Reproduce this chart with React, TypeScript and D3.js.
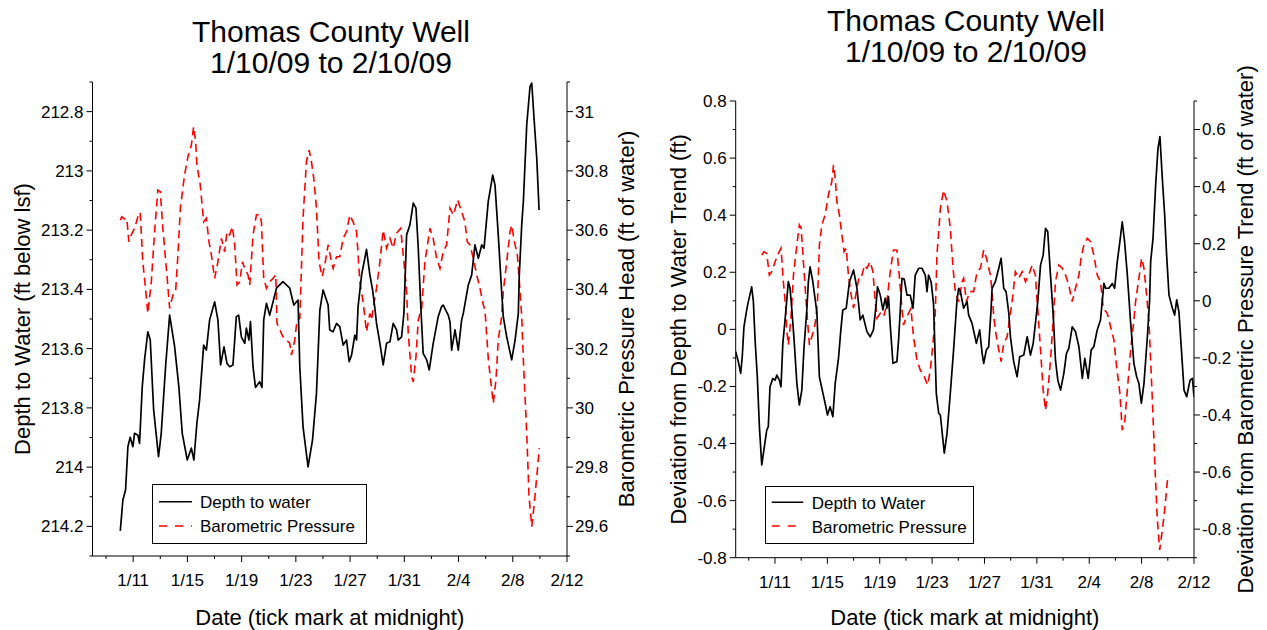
import React from "react";
import * as d3 from "d3";

const FONT = "'Liberation Sans', Arial, Helvetica, sans-serif";

// x axis: day of year 2009 (1 = Jan 1)
const xDomain: [number, number] = [8, 43];
const xMajorDays = [11, 15, 19, 23, 27, 31, 35, 39, 43];
const xTickLabels = ["1/11", "1/15", "1/19", "1/23", "1/27", "1/31", "2/4", "2/8", "2/12"];
const xMinorDays = [9, 13, 17, 21, 25, 29, 33, 37, 41];

const leftDepthTicks = ["212.8", "213", "213.2", "213.4", "213.6", "213.8", "214", "214.2"];
const leftBaroTicks = ["31", "30.8", "30.6", "30.4", "30.2", "30", "29.8", "29.6"];
const rightDepthTicks = ["0.8", "0.6", "0.4", "0.2", "0", "-0.2", "-0.4", "-0.6", "-0.8"];
const rightBaroTicks = ["0.6", "0.4", "0.2", "0", "-0.2", "-0.4", "-0.6", "-0.8"];

const titleLines = ["Thomas County Well", "1/10/09 to 2/10/09"];

// Left chart: depth to water (ft below lsf)
const leftDepth: [number, number][] = [
  [10.05, 214.215], [10.24, 214.111], [10.44, 214.077], [10.61, 213.931], [10.78, 213.899], [10.98, 213.931],
  [11.1, 213.886], [11.35, 213.892], [11.47, 213.92], [11.67, 213.729], [11.84, 213.638], [12.08, 213.543],
  [12.26, 213.571], [12.51, 213.807], [12.87, 213.965], [13.07, 213.886], [13.39, 213.661], [13.69, 213.487],
  [14.06, 213.594], [14.37, 213.729], [14.62, 213.886], [14.99, 213.976], [15.29, 213.936], [15.48, 213.976],
  [15.7, 213.852], [15.9, 213.773], [16.2, 213.588], [16.4, 213.605], [16.64, 213.503], [17.01, 213.442],
  [17.25, 213.503], [17.45, 213.655], [17.7, 213.594], [17.92, 213.65], [18.12, 213.661], [18.36, 213.655],
  [18.61, 213.492], [18.78, 213.487], [18.98, 213.56], [19.23, 213.582], [19.35, 213.531], [19.54, 213.571],
  [19.65, 213.509], [19.84, 213.661], [20.02, 213.731], [20.33, 213.712], [20.5, 213.731], [20.63, 213.503],
  [20.83, 213.447], [21.07, 213.487], [21.57, 213.396], [22.05, 213.374], [22.55, 213.396], [22.85, 213.453],
  [23.16, 213.436], [23.29, 213.661], [23.53, 213.864], [23.9, 213.999], [24.23, 213.908], [24.52, 213.751],
  [24.77, 213.47], [25.01, 213.402], [25.38, 213.453], [25.5, 213.537], [25.75, 213.543], [26.0, 213.515],
  [26.24, 213.526], [26.49, 213.588], [26.74, 213.571], [26.93, 213.644], [27.11, 213.622], [27.35, 213.554],
  [27.48, 213.571], [27.59, 213.458], [27.85, 213.351], [28.21, 213.265], [28.46, 213.351], [28.66, 213.402],
  [28.83, 213.464], [28.95, 213.515], [29.2, 213.582], [29.44, 213.655], [29.69, 213.582], [29.94, 213.577],
  [30.18, 213.515], [30.43, 213.537], [30.55, 213.571], [30.8, 213.56], [30.97, 213.481], [31.17, 213.216],
  [31.41, 213.183], [31.66, 213.109], [31.86, 213.126], [32.03, 213.261], [32.2, 213.442], [32.39, 213.616],
  [32.65, 213.638], [32.84, 213.672], [33.13, 213.582], [33.5, 213.492], [33.75, 213.458], [33.87, 213.453],
  [34.24, 213.487], [34.37, 213.509], [34.49, 213.605], [34.74, 213.537], [34.98, 213.605], [35.23, 213.503],
  [35.35, 213.481], [35.72, 213.385], [35.97, 213.351], [36.21, 213.25], [36.46, 213.295], [36.71, 213.25],
  [36.88, 213.261], [37.19, 213.104], [37.52, 213.014], [37.69, 213.048], [37.93, 213.216], [38.18, 213.408],
  [38.3, 213.492], [38.55, 213.56], [38.92, 213.638], [39.17, 213.571], [39.41, 213.481], [39.48, 213.351],
  [39.66, 213.183], [39.78, 213.104], [40.03, 212.845], [40.27, 212.716], [40.4, 212.704], [40.57, 212.823],
  [40.77, 212.958], [40.94, 213.132],
];

// Left chart: barometric pressure head (ft of water)
const leftBaro: [number, number][] = [
  [10.05, 30.634], [10.16, 30.645], [10.36, 30.638], [10.53, 30.64], [10.68, 30.561], [10.86, 30.584],
  [11.1, 30.606], [11.35, 30.645], [11.52, 30.66], [11.71, 30.493], [11.91, 30.404], [12.08, 30.319],
  [12.34, 30.426], [12.58, 30.595], [12.82, 30.735], [13.0, 30.73], [13.19, 30.606], [13.49, 30.449],
  [13.69, 30.336], [13.93, 30.381], [14.13, 30.392], [14.3, 30.516], [14.48, 30.674], [14.79, 30.786],
  [15.04, 30.848], [15.29, 30.887], [15.46, 30.949], [15.61, 30.898], [15.7, 30.82], [15.95, 30.752],
  [16.2, 30.628], [16.4, 30.64], [16.59, 30.561], [16.77, 30.516], [17.01, 30.437], [17.25, 30.493],
  [17.51, 30.572], [17.75, 30.527], [17.92, 30.595], [18.12, 30.584], [18.32, 30.612], [18.49, 30.55],
  [18.66, 30.415], [18.86, 30.426], [19.06, 30.493], [19.23, 30.471], [19.47, 30.449], [19.6, 30.415],
  [19.84, 30.584], [20.09, 30.651], [20.33, 30.653], [20.46, 30.628], [20.63, 30.437], [20.83, 30.404],
  [21.07, 30.426], [21.32, 30.437], [21.52, 30.449], [21.61, 30.285], [22.05, 30.24], [22.31, 30.229],
  [22.55, 30.218], [22.68, 30.178], [22.92, 30.229], [23.09, 30.297], [23.29, 30.302], [23.53, 30.64],
  [23.78, 30.831], [23.98, 30.87], [24.15, 30.831], [24.32, 30.775], [24.52, 30.674], [24.71, 30.493],
  [24.94, 30.443], [25.13, 30.482], [25.38, 30.55], [25.63, 30.493], [25.75, 30.471], [26.0, 30.51],
  [26.24, 30.51], [26.49, 30.572], [26.74, 30.595], [26.98, 30.651], [27.22, 30.628], [27.48, 30.595],
  [27.72, 30.426], [27.96, 30.358], [28.21, 30.257], [28.46, 30.319], [28.58, 30.297], [28.7, 30.336],
  [28.95, 30.404], [29.2, 30.493], [29.44, 30.6], [29.69, 30.539], [29.94, 30.572], [30.18, 30.539],
  [30.43, 30.589], [30.73, 30.606], [30.97, 30.493], [31.17, 30.392], [31.29, 30.252], [31.54, 30.105],
  [31.66, 30.088], [31.86, 30.173], [32.03, 30.297], [32.28, 30.336], [32.52, 30.493], [32.89, 30.606],
  [33.13, 30.572], [33.38, 30.505], [33.63, 30.471], [33.87, 30.527], [34.12, 30.55], [34.37, 30.674],
  [34.61, 30.651], [34.94, 30.702], [35.23, 30.662], [35.47, 30.628], [35.64, 30.561], [35.84, 30.55],
  [36.09, 30.505], [36.34, 30.449], [36.58, 30.404], [36.83, 30.347], [36.95, 30.33], [37.2, 30.162],
  [37.45, 30.06], [37.56, 30.015], [37.76, 30.094], [37.93, 30.229], [38.18, 30.308], [38.3, 30.392],
  [38.55, 30.493], [38.8, 30.595], [38.92, 30.617], [39.12, 30.561], [39.34, 30.516], [39.54, 30.392],
  [39.66, 30.308], [39.78, 30.162], [40.03, 29.914], [40.2, 29.7], [40.4, 29.599], [40.59, 29.678],
  [40.77, 29.768], [40.96, 29.864],
];

// Right chart: deviation from depth-to-water trend (ft)
const rightDepth: [number, number][] = [
  [8.0, -0.078], [8.2, -0.113], [8.38, -0.154], [8.5, -0.096], [8.63, 0.009], [8.84, 0.068], [8.94, 0.092],
  [9.22, 0.149], [9.35, 0.097], [9.48, -0.037], [9.65, -0.166], [9.81, -0.341], [9.99, -0.475], [10.19, -0.411],
  [10.37, -0.353], [10.49, -0.341], [10.62, -0.201], [10.83, -0.172], [11.01, -0.178], [11.14, -0.16],
  [11.33, -0.178], [11.46, -0.201], [11.6, -0.049], [11.77, 0.033], [12.02, 0.167], [12.15, 0.144],
  [12.28, 0.074], [12.46, -0.037], [12.67, -0.189], [12.86, -0.265], [13.05, -0.213], [13.22, -0.061],
  [13.43, 0.068], [13.55, 0.167], [13.68, 0.219], [13.89, 0.167], [14.2, 0.059], [14.39, -0.166],
  [14.58, -0.207], [14.83, -0.259], [15.01, -0.3], [15.21, -0.271], [15.42, -0.306], [15.6, -0.189],
  [15.85, -0.102], [16.03, -0.002], [16.18, 0.068], [16.44, 0.074], [16.69, 0.167], [17.0, 0.208],
  [17.26, 0.144], [17.51, 0.033], [17.71, 0.05], [18.02, -0.008], [18.27, -0.026], [18.52, -0.002],
  [18.73, 0.091], [18.83, 0.149], [19.04, 0.12], [19.24, 0.068], [19.42, 0.109], [19.55, 0.074],
  [19.67, 0.114], [19.8, 0.015], [20.01, -0.119], [20.31, -0.113], [20.44, -0.037], [20.57, 0.068],
  [20.7, 0.179], [20.87, 0.176], [21.08, 0.12], [21.33, 0.12], [21.54, 0.074], [21.71, 0.19], [21.97, 0.214],
  [22.23, 0.214], [22.48, 0.19], [22.61, 0.132], [22.73, 0.19], [22.92, 0.167], [23.11, 0.089],
  [23.32, -0.224], [23.5, -0.294], [23.63, -0.3], [23.93, -0.434], [24.14, -0.364], [24.39, -0.224],
  [24.64, -0.072], [24.9, 0.103], [25.03, 0.144], [25.16, 0.132], [25.41, 0.074], [25.67, 0.097],
  [25.79, 0.05], [26.05, 0.021], [26.38, -0.049], [26.63, -0.002], [26.82, -0.084], [26.94, -0.119],
  [27.14, -0.072], [27.32, -0.061], [27.5, 0.068], [27.58, 0.144], [27.83, 0.167], [28.09, 0.214],
  [28.27, 0.249], [28.47, 0.144], [28.65, 0.132], [28.85, 0.059], [28.98, -0.026], [29.23, -0.113],
  [29.49, -0.166], [29.69, -0.096], [30.0, -0.09], [30.26, -0.026], [30.51, -0.09], [30.72, -0.049],
  [30.89, 0.021], [31.07, 0.097], [31.28, 0.225], [31.48, 0.26], [31.66, 0.354], [31.83, 0.342],
  [32.04, 0.19], [32.25, 0.05], [32.42, -0.108], [32.6, -0.178], [32.81, -0.213], [33.06, -0.154],
  [33.26, -0.084], [33.44, -0.067], [33.7, 0.009], [33.95, -0.008], [34.21, -0.061], [34.47, -0.172],
  [34.66, -0.102], [34.92, -0.172], [35.15, -0.072], [35.35, -0.061], [35.61, -0.002], [35.86, 0.033],
  [36.12, 0.161], [36.25, 0.144], [36.5, 0.144], [36.76, 0.161], [36.94, 0.144], [37.14, 0.237],
  [37.34, 0.307], [37.52, 0.377], [37.7, 0.307], [37.91, 0.19], [38.16, 0.024], [38.41, -0.119],
  [38.62, -0.166], [38.79, -0.189], [38.98, -0.259], [39.18, -0.189], [39.44, -0.026], [39.61, 0.103],
  [39.69, 0.237], [39.87, 0.319], [40.07, 0.506], [40.25, 0.634], [40.4, 0.675], [40.58, 0.529],
  [40.76, 0.401], [40.91, 0.26], [41.09, 0.12], [41.35, 0.074], [41.52, 0.05], [41.68, 0.103],
  [41.85, 0.061], [42.04, -0.072], [42.24, -0.213], [42.44, -0.236], [42.7, -0.178], [42.88, -0.172],
  [43.0, -0.236],
];

// Right chart: deviation from barometric pressure trend (ft of water)
const rightBaro: [number, number][] = [
  [9.99, 0.16], [10.16, 0.172], [10.37, 0.166], [10.57, 0.09], [10.75, 0.102], [11.01, 0.137], [11.26, 0.166],
  [11.46, 0.184], [11.64, 0.067], [11.82, -0.026], [11.9, -0.102], [12.02, -0.155], [12.21, -0.067],
  [12.41, 0.09], [12.67, 0.195], [12.86, 0.266], [13.0, 0.254], [13.17, 0.137], [13.38, -0.003],
  [13.48, -0.067], [13.63, -0.155], [13.89, -0.114], [14.07, -0.079], [14.24, -0.009], [14.39, 0.195],
  [14.58, 0.266], [14.83, 0.301], [15.08, 0.371], [15.34, 0.417], [15.47, 0.476], [15.6, 0.429],
  [15.73, 0.347], [15.92, 0.301], [16.11, 0.23], [16.28, 0.172], [16.44, 0.184], [16.61, 0.09],
  [16.82, 0.02], [17.0, -0.026], [17.26, 0.044], [17.45, 0.09], [17.64, 0.09], [17.84, 0.125],
  [18.02, 0.114], [18.27, 0.137], [18.48, 0.102], [18.66, -0.003], [18.79, -0.061], [19.04, -0.044],
  [19.29, -0.056], [19.5, -0.021], [19.8, 0.102], [20.05, 0.178], [20.31, 0.178], [20.49, 0.09],
  [20.7, -0.032], [20.82, -0.085], [21.03, -0.056], [21.2, -0.044], [21.39, -0.026], [21.46, -0.067],
  [21.58, -0.126], [21.84, -0.208], [22.1, -0.243], [22.4, -0.266], [22.66, -0.295], [22.86, -0.243],
  [23.07, -0.149], [23.24, -0.044], [23.37, 0.16], [23.63, 0.324], [23.88, 0.388], [24.14, 0.347],
  [24.39, 0.254], [24.6, 0.114], [24.77, 0.032], [25.03, -0.003], [25.29, 0.067], [25.41, 0.079],
  [25.62, -0.003], [25.87, 0.032], [26.17, 0.032], [26.43, 0.102], [26.69, 0.114], [26.94, 0.178],
  [27.15, 0.149], [27.45, 0.09], [27.58, 0.032], [27.7, -0.053], [27.91, -0.126], [28.09, -0.172],
  [28.27, -0.213], [28.47, -0.149], [28.73, -0.126], [28.98, -0.044], [29.11, -0.003], [29.36, 0.102],
  [29.62, 0.079], [29.88, 0.102], [30.13, 0.067], [30.38, 0.09], [30.64, 0.125], [30.89, 0.09],
  [31.02, -0.003], [31.07, -0.032], [31.28, -0.172], [31.48, -0.313], [31.66, -0.383], [31.83, -0.324],
  [32.04, -0.208], [32.25, -0.067], [32.42, 0.067], [32.68, 0.125], [32.94, 0.114], [33.19, 0.09],
  [33.44, 0.055], [33.7, -0.003], [33.95, 0.044], [34.21, 0.09], [34.39, 0.154], [34.59, 0.195],
  [34.85, 0.219], [35.1, 0.207], [35.35, 0.16], [35.61, 0.09], [35.86, 0.067], [36.07, -0.026],
  [36.38, -0.044], [36.63, -0.091], [36.88, -0.137], [37.09, -0.231], [37.34, -0.324], [37.52, -0.453],
  [37.7, -0.429], [37.91, -0.313], [38.16, -0.172], [38.41, -0.067], [38.54, -0.003], [38.79, 0.079],
  [39.0, 0.149], [39.18, 0.114], [39.38, 0.02], [39.56, -0.073], [39.82, -0.348], [40.02, -0.581],
  [40.2, -0.768], [40.38, -0.873], [40.58, -0.803], [40.76, -0.733], [41.01, -0.61],
];

type PanelCfg = {
  id: string;
  x0: number; x1: number; y0: number; y1: number;
  yL: [number, number]; yR: [number, number];
  leftTicks: string[]; rightTicks: string[];
  depth: [number, number][]; baro: [number, number][];
  titleX: number; titleY: [number, number];
  leftLabel: string; rightLabel: string;
  leftLabelX: number; rightLabelX: number;
  legend: { x: number; y: number; w: number; h: number; s0: number; s1: number; ly1: number; ly2: number; tx: number; t1: number; t2: number; };
  depthName: string;
};

// minor ticks halfway between the major ticks, kept inside the axis domain
function minorTicks(domain: [number, number], majors: string[]): number[] {
  const lo = Math.min(domain[0], domain[1]) - 1e-9;
  const hi = Math.max(domain[0], domain[1]) + 1e-9;
  const out: number[] = [];
  const m = majors.map(Number);
  const step = Math.abs(m[1] - m[0]);
  const first = Math.min(...m) - step / 2;
  for (let v = first; v <= hi; v += step) {
    if (v >= lo) out.push(v);
  }
  return out;
}

function Panel({ c }: { c: PanelCfg }) {
  const x = d3.scaleLinear().domain(xDomain).range([c.x0, c.x1]);
  const yL = d3.scaleLinear().domain(c.yL).range([c.y0, c.y1]);
  const yR = d3.scaleLinear().domain(c.yR).range([c.y0, c.y1]);
  const lineL = d3.line<[number, number]>().x((d) => x(d[0])).y((d) => yL(d[1]));
  const lineR = d3.line<[number, number]>().x((d) => x(d[0])).y((d) => yR(d[1]));
  const minorL = minorTicks(c.yL, c.leftTicks);
  const minorR = minorTicks(c.yR, c.rightTicks);
  const midY = (c.y0 + c.y1) / 2;
  const midX = (c.x0 + c.x1) / 2;
  const L = c.legend;
  return (
    <g>
      <defs>
        <clipPath id={"clip" + c.id}>
          <rect x={c.x0} y={c.y0 - 2} width={c.x1 - c.x0} height={c.y1 - c.y0 + 2} />
        </clipPath>
      </defs>
      <text x={c.titleX} y={c.titleY[0]} textAnchor="middle" fontSize={30}>{titleLines[0]}</text>
      <text x={c.titleX} y={c.titleY[1]} textAnchor="middle" fontSize={30}>{titleLines[1]}</text>
      <g clipPath={`url(#clip${c.id})`}>
        <path d={lineR(c.baro) || ""} fill="none" stroke="#ff0000" strokeWidth={1.6} strokeDasharray="8,5" />
        <path d={lineL(c.depth) || ""} fill="none" stroke="#000" strokeWidth={1.7} strokeLinejoin="round" />
      </g>
      <g stroke="#000" strokeWidth={1}>
        <line x1={c.x0} x2={c.x1} y1={c.y1} y2={c.y1} />
        <line x1={c.x0} x2={c.x0} y1={c.y0} y2={c.y1} />
        <line x1={c.x1} x2={c.x1} y1={c.y0} y2={c.y1} />
        {xMajorDays.map((d) => <line key={"xm" + d} x1={x(d)} x2={x(d)} y1={c.y1} y2={c.y1 + 6} />)}
        {xMinorDays.map((d) => <line key={"xn" + d} x1={x(d)} x2={x(d)} y1={c.y1} y2={c.y1 + 3} />)}
        {c.leftTicks.map((t) => <line key={"lm" + t} x1={c.x0 - 6} x2={c.x0} y1={yL(+t)} y2={yL(+t)} />)}
        {minorL.map((v, i) => <line key={"ln" + i} x1={c.x0 - 3} x2={c.x0} y1={yL(v)} y2={yL(v)} />)}
        {c.rightTicks.map((t) => <line key={"rm" + t} x1={c.x1} x2={c.x1 + 6} y1={yR(+t)} y2={yR(+t)} />)}
        {minorR.map((v, i) => <line key={"rn" + i} x1={c.x1} x2={c.x1 + 3} y1={yR(v)} y2={yR(v)} />)}
      </g>
      <g fontSize={17}>
        {xMajorDays.map((d, i) => (
          <text key={"xl" + d} x={x(d)} y={c.y1 + 30} textAnchor="middle">{xTickLabels[i]}</text>
        ))}
        {c.leftTicks.map((t) => (
          <text key={"ll" + t} x={c.x0 - 9} y={yL(+t)} dy="0.35em" textAnchor="end">{t}</text>
        ))}
        {c.rightTicks.map((t) => (
          <text key={"rl" + t} x={c.x1 + 8} y={yR(+t)} dy="0.35em" textAnchor="start">{t}</text>
        ))}
      </g>
      <text x={midX} y={625} textAnchor="middle" fontSize={22}>Date (tick mark at midnight)</text>
      <text transform={`translate(${c.leftLabelX},${midY}) rotate(-90)`} textAnchor="middle" fontSize={22}>{c.leftLabel}</text>
      <text transform={`translate(${c.rightLabelX},${midY}) rotate(-90)`} textAnchor="middle" fontSize={22}>{c.rightLabel}</text>
      <rect x={L.x} y={L.y} width={L.w} height={L.h} fill="#fff" stroke="#000" strokeWidth={1} />
      <line x1={L.s0} x2={L.s1} y1={L.ly1} y2={L.ly1} stroke="#000" strokeWidth={1.6} />
      <line x1={L.s0} x2={L.s1} y1={L.ly2} y2={L.ly2} stroke="#ff0000" strokeWidth={1.6} strokeDasharray="8,8" />
      <text x={L.tx} y={L.t1} fontSize={17}>{c.depthName}</text>
      <text x={L.tx} y={L.t2} fontSize={17}>Barometric Pressure</text>
    </g>
  );
}

const leftCfg: PanelCfg = {
  id: "L",
  x0: 92.5, x1: 567, y0: 82, y1: 556,
  yL: [212.7, 214.3], yR: [31.1, 29.5],
  leftTicks: leftDepthTicks, rightTicks: leftBaroTicks,
  depth: leftDepth, baro: leftBaro,
  titleX: 331, titleY: [42, 73],
  leftLabel: "Depth to Water (ft below lsf)",
  rightLabel: "Barometric Pressure Head (ft of water)",
  leftLabelX: 30, rightLabelX: 634,
  legend: { x: 152.5, y: 484.5, w: 214, h: 59, s0: 159, s1: 192, ly1: 501.7, ly2: 526, tx: 200, t1: 508, t2: 532 },
  depthName: "Depth to water",
};

const rightCfg: PanelCfg = {
  id: "R",
  x0: 735.7, x1: 1194, y0: 101, y1: 557.7,
  yL: [0.8, -0.8], yR: [0.7, -0.9],
  leftTicks: rightDepthTicks, rightTicks: rightBaroTicks,
  depth: rightDepth, baro: rightBaro,
  titleX: 966, titleY: [31, 62],
  leftLabel: "Deviation from Depth to Water Trend (ft)",
  rightLabel: "Deviation from Barometric Pressure Trend (ft of water)",
  leftLabelX: 686, rightLabelX: 1253,
  legend: { x: 765.5, y: 486.5, w: 208, h: 57, s0: 771.7, s1: 803.3, ly1: 502.3, ly2: 526, tx: 811.7, t1: 509, t2: 533 },
  depthName: "Depth to Water",
};

export default function App() {
  return (
    <svg
      width={1267}
      height={630}
      style={{ position: "absolute", left: 0, top: 0, background: "#fff" }}
      fontFamily={FONT}
    >
      <rect width={1267} height={630} fill="#fff" />
      <Panel c={leftCfg} />
      <Panel c={rightCfg} />
    </svg>
  );
}
